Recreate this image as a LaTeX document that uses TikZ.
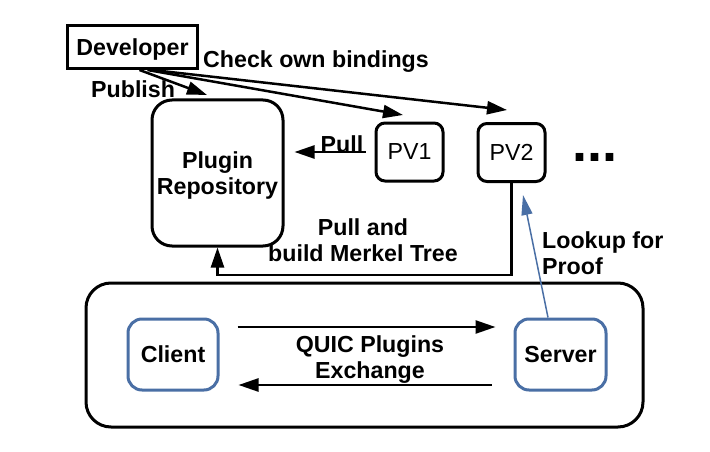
\documentclass[tikz,border=0pt]{standalone}
\usepackage{fontspec}
\setmainfont{Liberation Sans}
\usetikzlibrary{arrows.meta,calc}
\definecolor{boxblue}{RGB}{74,111,165}
\begin{document}
\begin{tikzpicture}[x=1pt,y=-1pt,
  every node/.style={font=\fontsize{23.2}{26}\selectfont\bfseries, inner sep=0pt},
  sqbox/.style={draw=black, line width=3pt},
  rbox/.style={draw=black, line width=3pt, rounded corners=#1},
  bbox/.style={draw=boxblue, line width=3pt, rounded corners=14pt, minimum height=71pt},
  regular/.style={font=\fontsize{23.2}{26}\selectfont\mdseries},
  arr/.style={line width=2.5pt, -{Triangle[length=20pt,width=13pt]}},
  barr/.style={draw=boxblue, line width=1.5pt, -{Triangle[length=20pt,width=11pt]}}
]
\useasboundingbox (0,0) rectangle (710,452);

% nodes
\node[sqbox, minimum width=130pt, minimum height=43pt, text depth=0pt] (dev) at (132.5,47) {Developer};
\node[rbox=20pt, minimum width=131pt, minimum height=146pt, align=center, text depth=-3.5pt] (repo) at (217.5,173) {Plugin\\Repository};
\node[rbox=9pt, regular, minimum width=67pt, minimum height=58pt] (pv1) at (409.5,152) {PV1};
\node[rbox=9pt, regular, minimum width=67pt, minimum height=58pt] (pv2) at (511.5,152.5) {PV2};
\node[font=\fontsize{54}{54}\selectfont\bfseries] (dots) at (595,157) {...};

\node[rbox=25pt, minimum width=557pt, minimum height=144pt] (outer) at (364.5,355) {};
\node[bbox, minimum width=90pt] (client) at (173,354.5) {Client};
\node[bbox, minimum width=91pt] (server) at (560.5,354.5) {Server};

% labels
\node[anchor=base west] (check) at (203,68) {Check own bindings};
\node[anchor=base west] (publish) at (91,97) {Publish};
\node[anchor=base] (pull) at (342,152) {Pull};
\node[anchor=north, align=center] (merkel) at (363,218.2) {Pull and\\build Merkel Tree};
\node[anchor=north west, align=left] (lookup) at (542,231.2) {Lookup for\\Proof};
\node[anchor=north, align=center] (quic) at (370,335.2) {QUIC Plugins\\Exchange};

% connectors
\coordinate (pubEnd) at (207,95);
\coordinate (pv1End) at (403,115);
\coordinate (pv2End) at (507,110);
\coordinate (lkEnd) at (523,195);

\draw[arr] ([xshift=7pt]dev.south) -- (pubEnd);
\draw[arr] ([xshift=15pt]dev.south) -- (pv1End);
\draw[arr] ([xshift=20pt]dev.south) -- (pv2End);

\draw[arr, shorten <=9pt, shorten >=10pt] (pv1.west) -- (pv1.west -| repo.east);
\draw[arr] (pv2.south) -- ++(0,92) -| (repo.south);
\draw[barr] ([xshift=-12.5pt]server.north) -- (lkEnd);

\draw[arr] ([xshift=18pt,yshift=27.5pt]client.east) -- ([xshift=-18pt,yshift=27.5pt]server.west);
\draw[arr] ([xshift=-22pt,yshift=-30.5pt]server.west) -- ([xshift=19pt,yshift=-30.5pt]client.east);
\end{tikzpicture}
\end{document}
